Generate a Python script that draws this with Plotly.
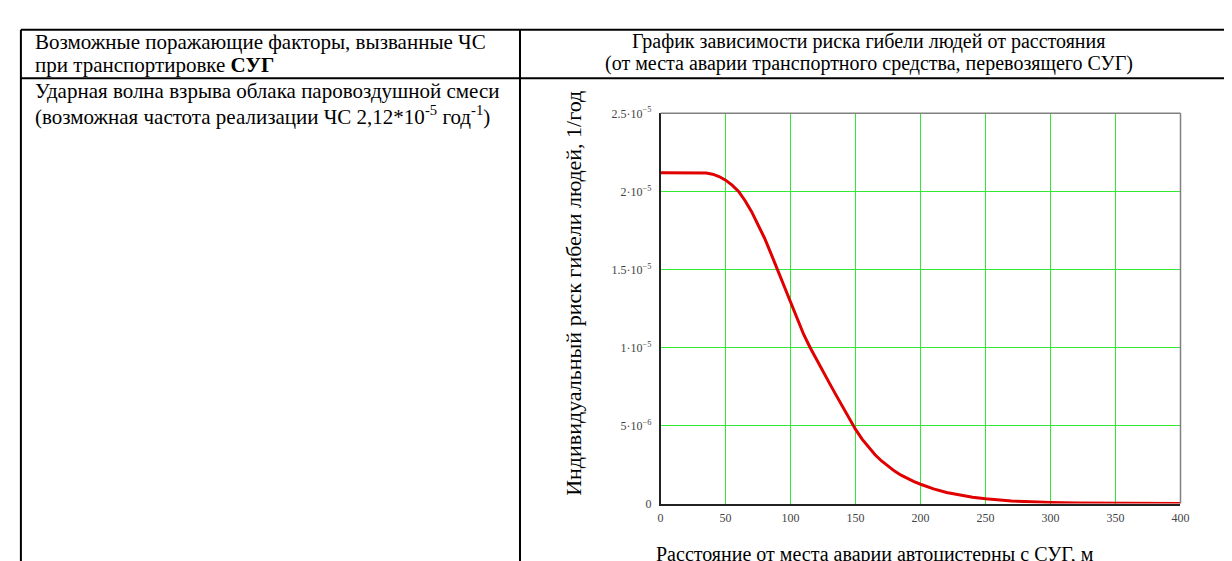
import plotly.graph_objects as go

W, H = 1232, 561

# ---- data ----
distance_m = [0, 10, 20, 30, 35, 40, 45, 50, 55, 60, 65, 70, 75, 80, 85, 90, 95,
              100, 105, 110, 115, 120, 125, 130, 135, 140, 145, 150, 155, 160,
              165, 170, 175, 180, 185, 190, 195, 200, 210, 220, 230, 240, 250,
              260, 270, 280, 290, 300, 320, 340, 360, 380, 400]
risk_e5 = [2.12, 2.12, 2.12, 2.12, 2.118, 2.11, 2.095, 2.072, 2.04, 2.0, 1.94,
           1.87, 1.79, 1.70, 1.60, 1.495, 1.39, 1.285, 1.18, 1.085, 1.0, 0.92,
           0.845, 0.77, 0.695, 0.62, 0.545, 0.475, 0.413, 0.36, 0.313, 0.273,
           0.238, 0.208, 0.182, 0.16, 0.141, 0.124, 0.094, 0.071, 0.054, 0.041,
           0.031, 0.023, 0.017, 0.013, 0.0095, 0.007, 0.004, 0.0024, 0.0014,
           0.0009, 0.0006]
risk = [v * 1e-5 for v in risk_e5]

x_ticks = [0, 50, 100, 150, 200, 250, 300, 350, 400]
y_ticks = [0, 5e-6, 1e-5, 1.5e-5, 2e-5, 2.5e-5]
y_tick_text = ["0", "5·10<sup>−6</sup>", "1·10<sup>−5</sup>", "1.5·10<sup>−5</sup>",
               "2·10<sup>−5</sup>", "2.5·10<sup>−5</sup>"]

left_header = ["Возможные поражающие факторы, вызванные ЧС",
               "при транспортировке <b>СУГ</b>"]
left_row = ["Ударная волна взрыва облака паровоздушной смеси",
            "(возможная частота реализации ЧС 2,12*10<sup>-5</sup> год<sup>-1</sup>)"]
right_header = ["График зависимости риска гибели людей от расстояния",
                "(от места аварии транспортного средства, перевозящего СУГ)"]
y_title = "Индивидуальный риск гибели людей, 1/год"
x_title = "Расстояние от места аварии автоцистерны с СУГ, м"

# ---- helpers (pixel -> paper) ----
def px(x):
    return x / W

def py(y):
    return 1 - y / H

SERIF = "Liberation Serif, Times New Roman, serif"
GRID = "#33e833"

fig = go.Figure()
fig.add_trace(go.Scatter(x=distance_m, y=risk, mode="lines",
                         line=dict(color="#e00000", width=3),
                         hoverinfo="skip", showlegend=False))

plot_l, plot_r, plot_t, plot_b = 656, 1181, 100, 501

fig.update_layout(
    width=W, height=H,
    margin=dict(l=0, r=0, t=0, b=0),
    paper_bgcolor="white", plot_bgcolor="white",
    xaxis=dict(domain=[px(plot_l), px(plot_r)], range=[0, 400],
               tickvals=x_ticks, ticktext=[str(v) for v in x_ticks],
               showgrid=True, gridcolor=GRID, gridwidth=1,
               zeroline=False, showline=True, linecolor="#222222", linewidth=1.5,
               ticks="outside", ticklen=2, tickcolor="rgba(0,0,0,0)",
               tickfont=dict(family=SERIF, size=12, color="#444444")),
    yaxis=dict(domain=[py(plot_b), py(plot_t)], range=[0, 2.5e-5],
               tickvals=y_ticks, ticktext=y_tick_text,
               showgrid=True, gridcolor=GRID, gridwidth=1,
               zeroline=False, showline=True, linecolor="#222222", linewidth=1.5,
               ticks="outside", ticklen=5, tickcolor="rgba(0,0,0,0)",
               tickfont=dict(family=SERIF, size=12, color="#444444")),
    font=dict(family=SERIF, color="black"),
)

shapes = []
# plot frame top/right (grey)
shapes.append(dict(type="line", xref="paper", yref="paper",
                   x0=px(plot_l), x1=px(plot_r), y0=py(plot_t), y1=py(plot_t),
                   line=dict(color="#808080", width=1.5)))
shapes.append(dict(type="line", xref="paper", yref="paper",
                   x0=px(plot_r), x1=px(plot_r), y0=py(plot_t), y1=py(plot_b),
                   line=dict(color="#808080", width=1.5)))
# table lines
tbl_l, tbl_top, tbl_div_x, tbl_row_y = 10, 14, 514, 64
for (x0, y0, x1, y1) in [(tbl_l, tbl_top, W, tbl_top),
                         (tbl_l, tbl_row_y, W, tbl_row_y),
                         (tbl_l, tbl_top, tbl_l, H),
                         (tbl_div_x, tbl_top, tbl_div_x, H)]:
    shapes.append(dict(type="line", xref="paper", yref="paper",
                       x0=px(x0), x1=px(x1), y0=py(y0), y1=py(y1),
                       line=dict(color="black", width=2)))
fig.update_layout(shapes=shapes)

ann = []
def text(t, x, y, size=21, xanchor="left", angle=0):
    ann.append(dict(text=t, x=px(x), y=py(y), xref="paper", yref="paper",
                    xanchor=xanchor, yanchor="middle", showarrow=False,
                    textangle=angle, font=dict(family=SERIF, size=size, color="black")))

text(left_header[0], 22, 27)
text(left_header[1], 22, 50)
text(left_row[0], 22, 77)
text(left_row[1], 22, 102)
text(right_header[0], 866, 26, size=20, xanchor="center")
text(right_header[1], 866, 49, size=20, xanchor="center")
text(y_title, 568, 285, size=22, xanchor="center", angle=-90)
text(x_title, 872, 553, size=20, xanchor="center")
fig.update_layout(annotations=ann)

fig.write_html("out.html")
